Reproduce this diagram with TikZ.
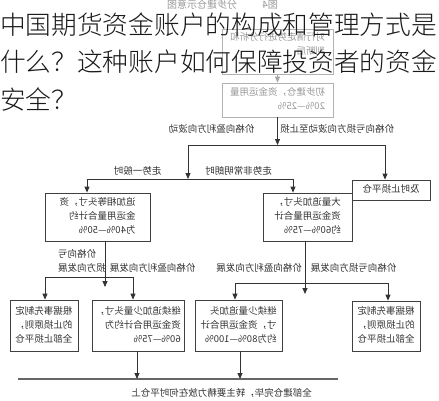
\documentclass[tikz,border=0pt]{standalone}
\usepackage{fontspec}
\setmainfont{Noto Sans CJK SC}
\newfontfamily\ttlfont{Noto Sans CJK SC Light}
\usepackage{graphicx}
\usetikzlibrary{arrows.meta}
\newcommand{\mr}[2][l]{\scalebox{-1}[1]{\begin{tabular}{@{}#1@{}}#2\end{tabular}}}

\begin{document}
\begin{tikzpicture}[x=1pt,y=-1pt,
  box/.style={draw=black!75,line width=0.8pt,inner sep=0pt,text=black!80,font=\fontsize{9.5}{14}\selectfont},
  fbox/.style={box,draw=black!30,text=black!40},
  lbl/.style={inner sep=0pt,text=black!80,font=\fontsize{9.5}{14}\selectfont},
  arr/.style={draw=black!80,line width=0.8pt,-{Triangle[length=6pt,width=5pt]}},
  ln/.style={draw=black!80,line width=0.8pt},
  ttl/.style={anchor=base west,inner sep=0pt,text=black!90,font=\ttlfont\fontsize{25.7}{30}\selectfont}]
\useasboundingbox[fill=white] (0,0) rectangle (439,400);

% caption
\node[lbl,text=black!40,font=\fontsize{10}{12}\selectfont] (cap) at (202,6) {\mr{分步建仓示意图}};
\node[lbl,text=black!40,font=\fontsize{10}{12}\selectfont] (fig) at (270,6) {\mr{图4}};

% boxes
\node[fbox,minimum width=111pt,minimum height=45pt] (a) at (277.5,51.5) {\mr{对行情走势进行分析和\\判断后\\\mbox{}}};
\node[fbox,minimum width=111pt,minimum height=34pt] (b) at (277.5,100) {\mr{初步建仓，资金运用量\\20\%—25\%}};
\node[box,minimum width=78pt,minimum height=20pt] (s) at (391,190) {\mr{及时止损平仓}};
\node[box,minimum width=105pt,minimum height=48pt] (c) at (97.5,217) {\mr{追加相等头寸，资\\金运用量合计约\\为40\%—50\%}};
\node[box,minimum width=89pt,minimum height=48pt] (d) at (307.5,217) {\mr{大量追加头寸，\\资金运用量合计\\约60\%—75\%}};
\node[box,minimum width=68pt,minimum height=51pt] (e) at (44,325.5) {\mr{根据事先制定\\的止损原则，\\全部止损平仓}};
\node[box,minimum width=92pt,minimum height=51pt] (f) at (138,325.5) {\mr{继续追加少量头寸，\\资金运用合计约为\\60\%—75\%}};
\node[box,minimum width=87pt,minimum height=51pt] (g) at (238.5,325.5) {\mr{继续少量追加头\\寸，资金运用合计\\约为80\%—100\%}};
\node[box,minimum width=68pt,minimum height=50pt] (h) at (386,326) {\mr{根据事先制定\\的止损原则，\\全部止损平仓}};

% labels
\node[lbl] (l1) at (211.5,130) {\mr{价格向盈利方向波动}};
\node[lbl] (l2) at (337,130) {\mr{价格向亏损方向波动至止损}};
\node[lbl] (l3) at (137.5,172) {\mr{走势一般时}};
\node[lbl] (l4) at (238.5,172) {\mr{走势非常明朗时}};
\node[lbl,anchor=west] (l5) at (58,261.5) {\mr[r]{价格向亏\\损方向发展}};
\node[lbl] (l6) at (152.5,269) {\mr{价格向盈利方向发展}};
\node[lbl] (l7) at (259,269) {\mr{价格向盈利方向发展}};
\node[lbl] (l8) at (353.5,269) {\mr{价格向亏损方向发展}};
\node[lbl] (l9) at (221.5,394) {\mr{全部建仓完毕，转主要精力放在何时平仓上}};

% junctions
\coordinate (j1l) at (188,145); \coordinate (j1r) at (385,145);
\coordinate (j2l) at (87,179); \coordinate (j2r) at (293,179);
\coordinate (j3l) at (45,277); \coordinate (j3r) at (133,277); \coordinate (j3e) at (105,287);
\coordinate (j4l) at (235,283); \coordinate (j4r) at (388,283); \coordinate (j4e) at (305,294);
\coordinate (j5l) at (18,379); \coordinate (j5r) at (338,379);
\coordinate (j5a) at (137,379); \coordinate (j5b) at (240,379);

% connectors
\draw[arr,draw=black!35] (a) -- (b);
\draw[arr] (b.south) -- (b.south |- j1l);
\draw[ln] (j1l) -- (j1r);
\draw[arr] (j1r) -- (j1r |- s.north);
\draw[arr] (j1l) -- (j1l |- j2l);
\draw[ln] (j2l) -- (j2r);
\draw[arr] (j2l) -- (j2l |- c.north);
\draw[arr] (j2r) -- (j2r |- d.north);
\draw[arr] (c.south -| j3e) -- (j3e);
\draw[ln] (j3l) -- (j3r);
\draw[arr] (j3l) -- (j3l |- e.north);
\draw[arr] (j3r) -- (j3r |- f.north);
\draw[arr] (d.south -| j4e) -- (j4e);
\draw[ln] (j4l) -- (j4r);
\draw[arr] (j4l) -- (j4l |- g.north);
\draw[arr] (j4r) -- (j4r |- h.north);
\draw[arr] (f.south -| j5a) -- (j5a);
\draw[arr] (g.south -| j5b) -- (j5b);
\draw[ln,draw=black!60,line width=1.5pt] (j5l) -- (j5r);

% title
\node[ttl] (t1) at (0,34) {中国期货资金账户的构成和管理方式是};
\node[ttl] (t2) at (0,71.5) {什么？这种账户如何保障投资者的资金};
\node[ttl] (t3) at (0,109) {安全？};
\end{tikzpicture}
\end{document}
